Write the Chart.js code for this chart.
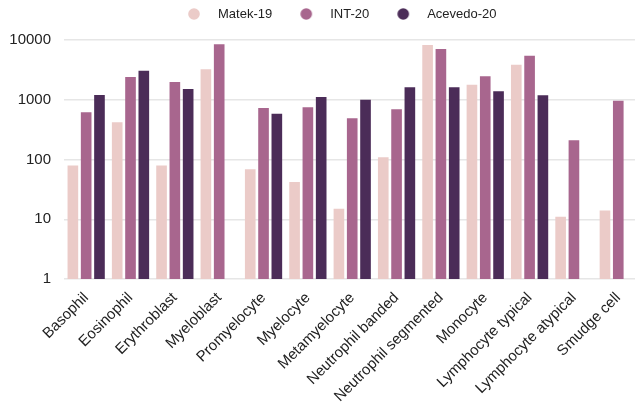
<!DOCTYPE html>
<html lang="en">
<head>
    <meta charset="UTF-8">
    <title>Cell counts per dataset</title>
    <style>
        html, body {
            margin: 0;
            padding: 0;
            background: #fff;
            overflow: hidden;
        }
        /* plot runs a little past the right edge of the window, like the reference */
        .wrap {
            width: 641px;
            height: 403px;
        }
    </style>
</head>
<body>
    <div class="wrap"><canvas id="countChart"></canvas></div>
    <script src="https://cdn.jsdelivr.net/npm/chart.js"></script>
    <script>
        // Data (log scale)
        const categories = ['Basophil', 'Eosinophil', 'Erythroblast', 'Myeloblast', 'Promyelocyte', 'Myelocyte',
            'Metamyelocyte', 'Neutrophil banded', 'Neutrophil segmented', 'Monocyte', 'Lymphocyte typical',
            'Lymphocyte atypical', 'Smudge cell'];
        const matek19 = [79, 420, 79, 3230, 69, 42, 15, 109, 8240, 1790, 3860, 11, 14];
        const int20 = [617, 2400, 1980, 8470, 728, 747, 490, 692, 7060, 2470, 5460, 210, 964];
        const acevedo20 = [1200, 3060, 1510, null, 585, 1110, 1000, 1615, 1615, 1383, 1187, null, null];
        const yTicks = [1, 10, 100, 1000, 10000];

        const colors = ['#ebcbc8', '#a8668e', '#4b2c58'];
        const fontFamily = "'Liberation Sans', Arial, sans-serif";

        // legend marker: a dot sitting left of centre, so there is a wider gap before the text
        function makeDot(color) {
            const c = document.createElement('canvas');
            c.width = 36;
            c.height = 12;
            const ctx = c.getContext('2d');
            ctx.fillStyle = color;
            ctx.beginPath();
            ctx.arc(7, 6, 5.8, 0, Math.PI * 2);
            ctx.fill();
            return c;
        }
        const dots = colors.map(makeDot);

        // fixes the legend's box: fixed height, moved to where the reference puts it
        const legendPlacer = {
            id: 'legendPlacer',
            beforeLayout(chart) {
                const lg = chart.legend;
                if (lg && !lg._patched) {
                    const fit = lg.fit;
                    lg.fit = function () {
                        fit.call(this);
                        this.height = 40;
                    };
                    lg._patched = true;
                }
            },
            afterLayout(chart) {
                const lg = chart.legend;
                lg.left = 160;
                lg.right = chart.width;
                lg.top = -31;
                lg.bottom = 31;
            }
        };

        new Chart(document.getElementById('countChart'), {
            type: 'bar',
            data: {
                labels: categories,
                datasets: [
                    { label: 'Matek-19', data: matek19, backgroundColor: colors[0] },
                    { label: 'INT-20', data: int20, backgroundColor: colors[1] },
                    { label: 'Acevedo-20', data: acevedo20, backgroundColor: colors[2] }
                ]
            },
            plugins: [legendPlacer],
            options: {
                responsive: true,
                maintainAspectRatio: false,
                animation: false,
                layout: { padding: 0 },
                datasets: {
                    bar: { categoryPercentage: 0.9, barPercentage: 0.8, borderWidth: 0 }
                },
                plugins: {
                    legend: {
                        position: 'top',
                        align: 'start',
                        labels: {
                            usePointStyle: true,
                            padding: 38.5,
                            color: '#222',
                            font: { family: fontFamily, size: 13 },
                            generateLabels: chart => {
                                const items = Chart.defaults.plugins.legend.labels.generateLabels(chart);
                                items.forEach((it, i) => { it.pointStyle = dots[i]; });
                                return items;
                            }
                        }
                    },
                    tooltip: { enabled: false }
                },
                scales: {
                    x: {
                        grid: { display: false, drawTicks: false },
                        border: { display: false },
                        afterFit: scale => { scale.height = 124; },
                        ticks: {
                            color: '#222',
                            padding: 10,
                            minRotation: 45,
                            maxRotation: 45,
                            autoSkip: false,
                            font: { family: fontFamily, size: 15 }
                        }
                    },
                    y: {
                        type: 'logarithmic',
                        min: 1,
                        max: 10000,
                        afterBuildTicks: scale => {
                            scale.ticks = yTicks.map(v => ({ value: v }));
                        },
                        afterFit: scale => { scale.width = 64; },
                        grid: { color: '#e6e6e6', lineWidth: 1.5, drawTicks: false },
                        border: { display: false },
                        ticks: {
                            color: '#222',
                            padding: 13,
                            font: { family: fontFamily, size: 15 },
                            callback: v => String(v)
                        }
                    }
                }
            }
        });
    </script>
</body>
</html>
